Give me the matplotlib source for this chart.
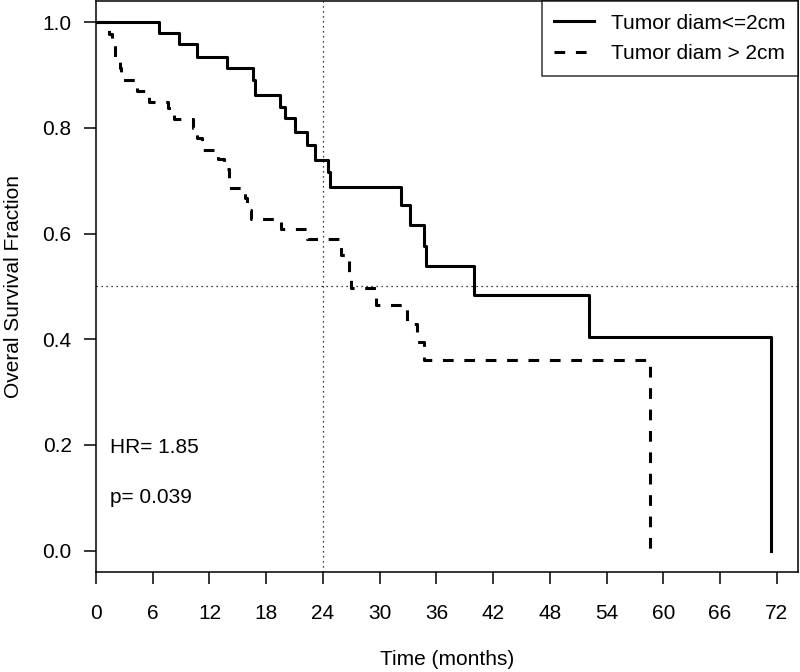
import matplotlib
matplotlib.use("Agg")
import matplotlib.pyplot as plt
import numpy as np

plt.rcParams['font.family'] = ['Liberation Sans', 'DejaVu Sans']

# Kaplan-Meier step points (time in months, survival fraction)
small_t = [0, 6.66, 8.74, 10.65, 13.9, 16.64, 16.8, 19.46, 19.96, 21.05, 22.35,
           23.2, 24.5, 24.7, 32.26, 33.2, 34.7, 34.9, 40.0, 52.1, 71.4]
small_s = [1.0, 0.980, 0.959, 0.935, 0.913, 0.890, 0.863, 0.840, 0.818, 0.792, 0.767,
           0.740, 0.716, 0.689, 0.6535, 0.617, 0.577, 0.538, 0.484, 0.404, 0.0]

large_t = [0, 1.4, 1.7, 2.0, 2.5, 2.6, 4.3, 5.6, 7.6, 8.3, 10.3, 10.7, 11.2, 12.9,
           13.5, 14.1, 15.8, 16.0, 16.4, 19.6, 22.3, 25.95, 26.8, 27.0, 29.6,
           32.85, 34.0, 34.7, 58.6]
large_s = [1.0, 0.978, 0.957, 0.935, 0.913, 0.891, 0.870, 0.850, 0.837, 0.816, 0.800,
           0.781, 0.759, 0.741, 0.722, 0.687, 0.667, 0.645, 0.628, 0.609, 0.590,
           0.560, 0.528, 0.497, 0.464, 0.428, 0.395, 0.3615, 0.0]

labels = ['Tumor diam<=2cm', 'Tumor diam > 2cm']
x_ticks = np.arange(0, 73, 6)
y_ticks = [0.0, 0.2, 0.4, 0.6, 0.8, 1.0]

fig = plt.figure(figsize=(8, 6.72), dpi=100)
ax = fig.add_axes([0.12, 0.1493, 0.877, 0.849])

# reference lines at 24 months and median survival
ax.axvline(24, color='black', lw=0.9, linestyle=(0, (1, 3)), zorder=1)
ax.axhline(0.5, color='black', lw=0.9, linestyle=(0, (1, 3)), zorder=1)

ax.plot(small_t, small_s, drawstyle='steps-post', color='black', lw=2.2,
        label=labels[0], zorder=3)
ax.plot(large_t, large_s, drawstyle='steps-post', color='black', lw=2.2,
        linestyle=(0, (3.5, 3.5)), label=labels[1], zorder=3)

ax.set_xlim(0, 74.2)
ax.set_ylim(-0.04, 1.04)
ax.set_xticks(x_ticks)
ax.set_yticks(y_ticks)
ax.set_yticklabels(['%.1f' % v for v in y_ticks])
ax.tick_params(axis='both', direction='out', length=8.5, width=1.1, labelsize=15)
ax.tick_params(axis='x', pad=15)
ax.tick_params(axis='y', pad=9)
for s in ax.spines.values():
    s.set_linewidth(1.1)

ax.set_xlabel('Time (months)', fontsize=15, labelpad=19)
ax.set_ylabel('Overal Survival Fraction', fontsize=15, labelpad=14)

ax.text(1.5, 0.195, 'HR= 1.85', fontsize=15, va='center', ha='left')
ax.text(1.5, 0.1, 'p= 0.039', fontsize=15, va='center', ha='left')

leg = ax.legend(loc='upper right', fontsize=15, frameon=True, fancybox=False,
                borderaxespad=0, handlelength=1.9, handletextpad=0.8,
                labelspacing=0.55, borderpad=0.6)
leg.get_frame().set_edgecolor('black')
leg.get_frame().set_linewidth(1.1)

fig.savefig('out.png', dpi=100)
